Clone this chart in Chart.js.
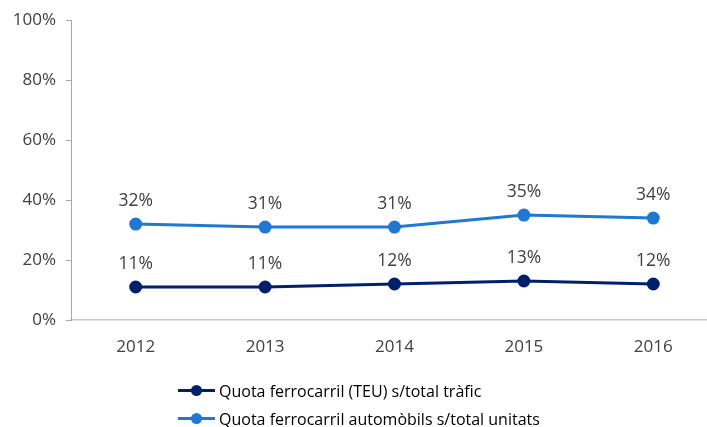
<!DOCTYPE html>
<html>
<head>
<meta charset="utf-8">
<script src="https://cdn.jsdelivr.net/npm/chart.js@4.4.0/dist/chart.umd.min.js"></script>
<style>
  html, body { margin: 0; padding: 0; background: #fff; overflow: hidden; }
  .wrap { position: relative; width: 707px; height: 427px; overflow: hidden; }
  #TAG { position: absolute; left: 0; top: 0; width: 726px; height: 427px; }
  .legend { position: absolute; left: 178px; top: 377px; font-family: "Open Sans", sans-serif; font-size: 16px; color: #000; }
  .legend div { height: 28px; line-height: 24px; display: flex; align-items: center; }
  .legend .sym { position: relative; width: 37px; height: 24px; margin-right: 4px; }
  .legend .sym i { position: absolute; left: 0; right: 0; top: 10px; height: 3px; }
  .legend .sym b { position: absolute; left: 13px; top: 6px; width: 11px; height: 11px; border-radius: 50%; }
</style>
</head>
<body>
<div class="wrap">
  <canvas id="TAG" width="726" height="427"></canvas>
  <div class="legend" id="legend"></div>
</div>
<script>
var years = ["2012", "2013", "2014", "2015", "2016"];
var quotaTeu = [11, 11, 12, 13, 12];
var quotaCars = [32, 31, 31, 35, 34];
var names = ["Quota ferrocarril (TEU) s/total tràfic", "Quota ferrocarril automòbils s/total unitats"];
var yTicks = [0, 20, 40, 60, 80, 100];

var darkBlue = "#00206B";
var lightBlue = "#1F78D2";
var textColor = "#404040";

// draws "nn%" above every point
var pointLabels = {
  id: "pointLabels",
  afterDatasetsDraw: function (chart) {
    var ctx = chart.ctx;
    ctx.save();
    ctx.font = "17.5px 'Open Sans', sans-serif";
    ctx.fillStyle = textColor;
    ctx.textAlign = "center";
    ctx.textBaseline = "middle";
    chart.data.datasets.forEach(function (ds, i) {
      chart.getDatasetMeta(i).data.forEach(function (pt, j) {
        ctx.fillText(ds.data[j] + "%", pt.x, pt.y - 23);
      });
    });
    ctx.restore();
  }
};

var ctx1 = document.getElementById("TAG").getContext("2d");

var data = {
  labels: years,
  datasets: [
    {
      label: names[0],
      data: quotaTeu,
      borderColor: darkBlue,
      backgroundColor: darkBlue,
      borderWidth: 3,
      pointRadius: 5,
      pointHoverRadius: 5,
      tension: 0,
    },
    {
      label: names[1],
      data: quotaCars,
      borderColor: lightBlue,
      backgroundColor: lightBlue,
      borderWidth: 3,
      pointRadius: 5,
      pointHoverRadius: 5,
      tension: 0,
    },
  ],
};

var options = {
  responsive: false,
  maintainAspectRatio: false,
  animation: false,
  devicePixelRatio: 1,
  layout: { padding: { top: 19, left: 0, right: 0, bottom: 0 } },
  plugins: { legend: { display: false }, tooltip: { enabled: false } },
  scales: {
    x: {
      offset: true,
      grid: { display: false },
      border: { display: true, color: "#C8C8C8", width: 1.5 },
      ticks: { color: textColor, padding: 9, font: { family: "'Open Sans', sans-serif", size: 17 } },
      afterFit: function (scale) { scale.height = 107; },
    },
    y: {
      min: 0,
      max: 100,
      afterBuildTicks: function (scale) {
        scale.ticks = yTicks.map(function (v) { return { value: v }; });
      },
      grid: { drawOnChartArea: false, drawTicks: true, tickLength: 5, color: "#A6A6A6" },
      border: { display: true, color: "#A6A6A6", width: 1 },
      ticks: {
        color: textColor,
        padding: 10,
        font: { family: "'Open Sans', sans-serif", size: 17 },
        callback: function (v) { return v + "%"; },
      },
      afterFit: function (scale) { scale.width = 71; },
    },
  },
};

var myChart = new Chart(ctx1, {
  type: "line",
  data: data,
  options: options,
  plugins: [pointLabels],
});

// legend as html, one row per series
var legend = document.getElementById("legend");
myChart.data.datasets.forEach(function (ds) {
  var row = document.createElement("div");
  row.innerHTML = '<span class="sym"><i style="background:' + ds.borderColor + '"></i><b style="background:' + ds.borderColor + '"></b></span>' + ds.label;
  legend.appendChild(row);
});
</script>
</body>
</html>
